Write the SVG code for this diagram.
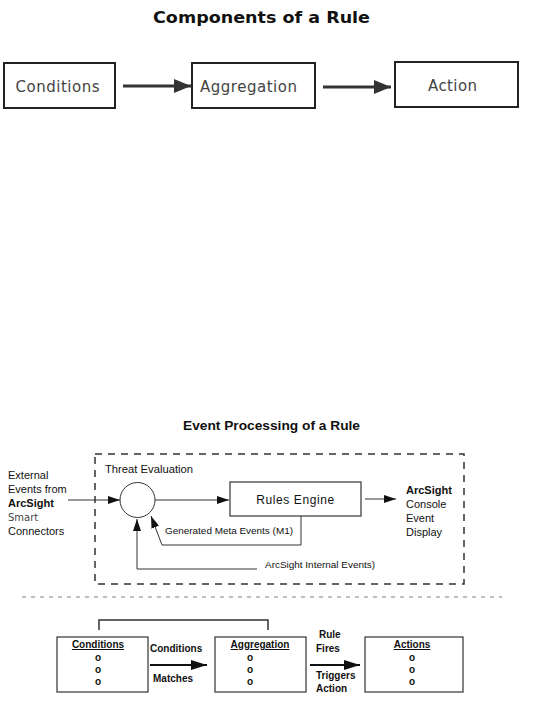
<svg xmlns="http://www.w3.org/2000/svg" width="541" height="717" viewBox="0 0 541 717">
<style>
  .bx{fill:#fff;stroke:#222;stroke-width:2}
  .t1{font-family:"DejaVu Sans",sans-serif;font-size:15px;fill:#444}
  .ttl{font-family:"DejaVu Sans",sans-serif;font-size:15px;font-weight:bold;fill:#111}
  .sans{font-family:"Liberation Sans",Arial,sans-serif;fill:#111}
  .thin{fill:none;stroke:#333;stroke-width:1}
  .box2{fill:#fff;stroke:#333;stroke-width:1.2}
  .bl{font-family:"Liberation Sans",Arial,sans-serif;font-size:10px;font-weight:bold;fill:#111;text-anchor:middle}
</style>
<defs>
  <marker id="hBig" markerUnits="userSpaceOnUse" markerWidth="17" markerHeight="14" refX="17" refY="7" orient="auto">
    <path d="M0,0 L17,7 L0,14 z" fill="#333"/>
  </marker>
  <marker id="hThin" markerUnits="userSpaceOnUse" markerWidth="12" markerHeight="8" refX="12" refY="4" orient="auto">
    <path d="M0,0 L12,4 L0,8 z" fill="#111"/>
  </marker>
  <marker id="hMid" markerUnits="userSpaceOnUse" markerWidth="16" markerHeight="10" refX="16" refY="5" orient="auto">
    <path d="M0,0 L16,5 L0,10 z" fill="#111"/>
  </marker>
</defs>

<text class="ttl" x="261.5" y="23" text-anchor="middle" textLength="217" lengthAdjust="spacingAndGlyphs">Components of a Rule</text>

<g id="top-conditions"><rect class="bx" x="4" y="63" width="111" height="45"/><text class="t1" x="57.5" y="92" text-anchor="middle" textLength="84">Conditions</text></g>
<g id="top-aggregation"><rect class="bx" x="192" y="63" width="123" height="45"/><text class="t1" x="248.5" y="92" text-anchor="middle" textLength="97">Aggregation</text></g>
<g id="top-action"><rect class="bx" x="395" y="62" width="123" height="45"/><text class="t1" x="452.5" y="91" text-anchor="middle" textLength="49">Action</text></g>

<text class="sans" x="271.5" y="430" font-size="12" font-weight="bold" text-anchor="middle" textLength="177" lengthAdjust="spacingAndGlyphs">Event Processing of a Rule</text>

<g id="threat-evaluation">
  <rect x="95" y="454" width="369" height="130" fill="none" stroke="#333" stroke-width="1.5" stroke-dasharray="7,6"/>
  <text class="sans" x="105" y="473" font-size="10" textLength="88" lengthAdjust="spacingAndGlyphs">Threat Evaluation</text>
</g>

<g id="external-events">
  <text class="sans" font-size="11" x="8" y="479">External</text>
  <text class="sans" font-size="11" x="8" y="493">Events from</text>
  <text class="sans" font-size="11" x="8" y="507" font-weight="bold">ArcSight</text>
  <text x="8" y="521" font-family="DejaVu Sans,sans-serif" font-size="10" fill="#444">Smart</text>
  <text class="sans" font-size="11" x="8" y="535">Connectors</text>
</g>

<g id="evaluator"><circle cx="137.5" cy="500" r="17.5" fill="#fff" stroke="#333" stroke-width="1"/></g>

<g id="rules-engine"><rect class="box2" x="230" y="482" width="131" height="34"/><text class="sans" x="295.5" y="504" font-size="12" text-anchor="middle" letter-spacing="0.6">Rules Engine</text></g>

<g id="console-display">
  <text class="sans" font-size="11" x="406" y="494" font-weight="bold">ArcSight</text>
  <text class="sans" font-size="11" x="406" y="508">Console</text>
  <text class="sans" font-size="11" x="406" y="522">Event</text>
  <text class="sans" font-size="11" x="406" y="536">Display</text>
</g>

<g id="meta-label"><text class="sans" x="165" y="534" font-size="9" textLength="128" lengthAdjust="spacingAndGlyphs">Generated Meta Events (M1)</text></g>
<g id="internal-label"><text class="sans" x="265" y="568" font-size="9" textLength="110" lengthAdjust="spacingAndGlyphs">ArcSight Internal Events)</text></g>

<g id="divider"><line x1="22" y1="597" x2="502" y2="597" stroke="#aaa" stroke-width="1.5" stroke-dasharray="4,5"/></g>

<g id="conditions-list">
  <rect class="box2" x="57" y="637" width="91" height="55"/>
  <text class="bl" x="98" y="648" text-decoration="underline">Conditions</text>
  <text class="bl" x="98" y="661">o</text><text class="bl" x="98" y="673">o</text><text class="bl" x="98" y="685">o</text>
</g>
<g id="aggregation-list">
  <rect class="box2" x="215" y="637" width="91" height="55"/>
  <text class="bl" x="260" y="648" text-decoration="underline">Aggregation</text>
  <text class="bl" x="250" y="661">o</text><text class="bl" x="250" y="673">o</text><text class="bl" x="250" y="685">o</text>
</g>
<g id="actions-list">
  <rect class="box2" x="365" y="637" width="98" height="55"/>
  <text class="bl" x="412" y="648" text-decoration="underline">Actions</text>
  <text class="bl" x="412" y="661">o</text><text class="bl" x="412" y="673">o</text><text class="bl" x="412" y="685">o</text>
</g>

<g id="arrow-labels" class="sans" font-size="10" font-weight="bold">
  <text x="150" y="652">Conditions</text>
  <text x="153" y="682">Matches</text>
  <text x="319" y="638">Rule</text>
  <text x="316" y="652">Fires</text>
  <text x="316" y="679">Triggers</text>
  <text x="316" y="692">Action</text>
</g>

<g id="connectors">
  <line x1="123" y1="86" x2="191" y2="86" stroke="#333" stroke-width="3" marker-end="url(#hBig)"/>
  <line x1="323" y1="87" x2="391" y2="87" stroke="#333" stroke-width="3" marker-end="url(#hBig)"/>
  <line class="thin" x1="68" y1="500" x2="120" y2="500" marker-end="url(#hThin)"/>
  <line class="thin" x1="155" y1="500" x2="229" y2="500" marker-end="url(#hThin)"/>
  <line class="thin" x1="365" y1="499" x2="396" y2="499" marker-end="url(#hThin)"/>
  <polyline class="thin" points="301,516 301,545 162,545 151,516" marker-end="url(#hThin)"/>
  <polyline class="thin" points="257,569 137,569 137,519" marker-end="url(#hThin)"/>
  <polyline points="99,630 99,620 268,620 268,630" fill="none" stroke="#333" stroke-width="1.5"/>
  <line x1="150" y1="665" x2="207" y2="665" stroke="#111" stroke-width="2" marker-end="url(#hMid)"/>
  <line x1="310" y1="665" x2="360" y2="665" stroke="#111" stroke-width="2" marker-end="url(#hMid)"/>
</g>
</svg>
